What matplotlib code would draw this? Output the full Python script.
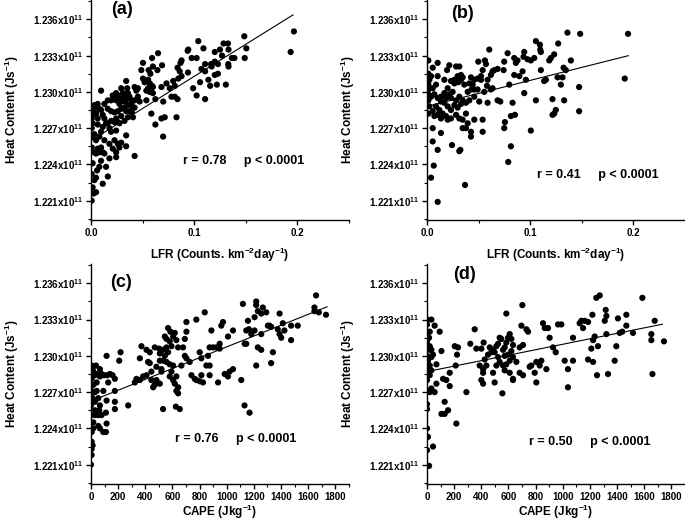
import numpy as np
import matplotlib
matplotlib.use("Agg")
import matplotlib.pyplot as plt
from matplotlib.ticker import FixedLocator, MultipleLocator

# ==== Fonts ====
plt.rcParams['font.family'] = ['Liberation Sans', 'DejaVu Sans']
plt.rcParams['font.weight'] = 'bold'
plt.rcParams['mathtext.fontset'] = 'custom'
plt.rcParams['mathtext.rm'] = 'Liberation Sans:bold'
plt.rcParams['mathtext.bf'] = 'Liberation Sans:bold'
plt.rcParams['mathtext.default'] = 'bf'

HC_SCALE = 1e11  # heat content values below are in units of 1e11 J/s

# ==== (a) LFR vs heat content ====
lfr_a = [0.1967, 0.1935, 0.1486, 0.1506, 0.1490, 0.1040, 0.1090, 0.0943, 0.1285, 0.1327,
         0.1333, 0.1250, 0.1200, 0.1366, 0.1390, 0.1333, 0.1330, 0.1270, 0.1200, 0.1164,
         0.1170, 0.1230, 0.1106, 0.1070, 0.1106, 0.1138, 0.1200, 0.1230, 0.1155, 0.1220,
         0.1307, 0.1057, 0.0990, 0.1024, 0.1106, 0.1024, 0.0976, 0.0878, 0.0868, 0.0839,
         0.0860, 0.0940, 0.0937, 0.0878, 0.0846, 0.0797, 0.0813, 0.0764, 0.0813, 0.0839,
         0.0780, 0.0732, 0.0683, 0.0700, 0.0683, 0.0715, 0.0829, 0.0624, 0.0699, 0.0689,
         0.0644, 0.0650, 0.0592, 0.0600, 0.0559, 0.0576, 0.0504, 0.0488, 0.0504, 0.0520,
         0.0553, 0.0570, 0.0592, 0.0600, 0.0553, 0.0537, 0.0570, 0.0600, 0.0624, 0.0537,
         0.0585, 0.0455, 0.0439, 0.0423, 0.0472, 0.0423, 0.0397, 0.0407, 0.0423, 0.0341,
         0.0351, 0.0309, 0.0325, 0.0358, 0.0374, 0.0293, 0.0244, 0.0228, 0.0260, 0.0211,
         0.0195, 0.0276, 0.0325, 0.0358, 0.0325, 0.0293, 0.0341, 0.0374, 0.0260, 0.0228,
         0.0195, 0.0163, 0.0293, 0.0358, 0.0244, 0.0325, 0.0276, 0.0228, 0.0195, 0.0163,
         0.0244, 0.0341, 0.0293, 0.0260, 0.0276, 0.0341, 0.0244, 0.0244, 0.0179, 0.0163,
         0.0114, 0.0098, 0.0081, 0.0059, 0.0049, 0.0033, 0.0049, 0.0026, 0.0007, 0.0016,
         0.0007, 0.0016, 0.0098, 0.0033, 0.0026, 0.0016, 0.0007, 0.0049, 0.0065, 0.0016,
         0.0007, 0.0007, 0.0007, 0.0033, 0.0049, 0.0065, 0.0098, 0.0114, 0.0130, 0.0146,
         0.0114, 0.0098, 0.0081, 0.0130, 0.0098, 0.0114, 0.0081, 0.0130, 0.0146, 0.0065,
         0.0049, 0.0033, 0.0179, 0.0195, 0.0179, 0.0228, 0.0211, 0.0163, 0.0130, 0.0065,
         0.0081, 0.0049, 0.0260, 0.0390, 0.0455, 0.0407, 0.0293, 0.0244, 0.0390, 0.0341,
         0.0423]
heat_a = [1.2350, 1.2333, 1.2346, 1.2336, 1.2328, 1.2342, 1.2336, 1.2335, 1.2340, 1.2340,
          1.2335, 1.2335, 1.2333, 1.2328, 1.2328, 1.2321, 1.2323, 1.2330, 1.2325, 1.2323,
          1.2321, 1.2323, 1.2323, 1.2319, 1.2317, 1.2310, 1.2314, 1.2315, 1.2305, 1.2306,
          1.2306, 1.2308, 1.2303, 1.2297, 1.2294, 1.2328, 1.2328, 1.2326, 1.2324, 1.2320,
          1.2317, 1.2316, 1.2334, 1.2313, 1.2311, 1.2309, 1.2305, 1.2303, 1.2296, 1.2294,
          1.2296, 1.2307, 1.2304, 1.2292, 1.2278, 1.2279, 1.2279, 1.2273, 1.2263, 1.2322,
          1.2318, 1.2332, 1.2328, 1.2321, 1.2318, 1.2315, 1.2324, 1.2318, 1.2311, 1.2308,
          1.2310, 1.2307, 1.2305, 1.2304, 1.2303, 1.2301, 1.2300, 1.2299, 1.2294, 1.2293,
          1.2282, 1.2303, 1.2301, 1.2293, 1.2292, 1.2287, 1.2283, 1.2279, 1.2247, 1.2309,
          1.2303, 1.2299, 1.2297, 1.2299, 1.2296, 1.2294, 1.2293, 1.2294, 1.2297, 1.2297,
          1.2293, 1.2290, 1.2292, 1.2289, 1.2287, 1.2286, 1.2284, 1.2284, 1.2284, 1.2283,
          1.2284, 1.2286, 1.2280, 1.2279, 1.2278, 1.2276, 1.2274, 1.2275, 1.2276, 1.2274,
          1.2268, 1.2264, 1.2258, 1.2257, 1.2254, 1.2255, 1.2250, 1.2246, 1.2245, 1.2230,
          1.2224, 1.2243, 1.2238, 1.2235, 1.2229, 1.2227, 1.2217, 1.2216, 1.2210, 1.2221,
          1.2232, 1.2241, 1.2301, 1.2289, 1.2285, 1.2281, 1.2278, 1.2282, 1.2278, 1.2274,
          1.2270, 1.2263, 1.2254, 1.2265, 1.2260, 1.2273, 1.2285, 1.2281, 1.2278, 1.2274,
          1.2271, 1.2267, 1.2263, 1.2260, 1.2254, 1.2250, 1.2250, 1.2249, 1.2238, 1.2253,
          1.2249, 1.2250, 1.2270, 1.2267, 1.2257, 1.2260, 1.2253, 1.2293, 1.2290, 1.2290,
          1.2286, 1.2288, 1.2275, 1.2293, 1.2296, 1.2287, 1.2303, 1.2299, 1.2290, 1.2294,
          1.2304]

# ==== (b) LFR vs heat content ====
lfr_b = [0.1948, 0.1916, 0.1484, 0.1474, 0.1474, 0.1361, 0.1271, 0.1055, 0.1094, 0.1097,
         0.1103, 0.1039, 0.1006, 0.0974, 0.0935, 0.0877, 0.0861, 0.0845, 0.0942, 0.0781,
         0.0748, 0.0742, 0.0684, 0.0652, 0.0603, 0.0561, 0.0571, 0.0635, 0.0619, 0.0587,
         0.0539, 0.0523, 0.0497, 0.0490, 0.0458, 0.0523, 0.0581, 0.0619, 0.0555, 0.0490,
         0.0458, 0.0426, 0.0410, 0.0432, 0.0394, 0.0361, 0.0329, 0.0329, 0.0345, 0.0297,
         0.0281, 0.0313, 0.0303, 0.0265, 0.0265, 0.0232, 0.0216, 0.0194, 0.0248, 0.0200,
         0.0216, 0.0168, 0.0135, 0.0184, 0.0232, 0.0281, 0.0313, 0.0345, 0.0377, 0.0410,
         0.0329, 0.0265, 0.0297, 0.0232, 0.0200, 0.0168, 0.0135, 0.0103, 0.0071, 0.0039,
         0.0013, 0.0013, 0.0013, 0.0013, 0.0023, 0.0039, 0.0013, 0.0013, 0.0103, 0.0055,
         0.0103, 0.0087, 0.0055, 0.0023, 0.0013, 0.0055, 0.0087, 0.0119, 0.0071, 0.0103,
         0.0152, 0.0184, 0.0200, 0.0232, 0.0281, 0.0313, 0.0345, 0.0377, 0.0394, 0.0458,
         0.0377, 0.0345, 0.0426, 0.0426, 0.0539, 0.0055, 0.0135, 0.0055, 0.0103, 0.0065,
         0.0039, 0.0242, 0.0323, 0.0313, 0.0368, 0.0103, 0.0748, 0.0813, 0.0852, 0.0813,
         0.0787, 0.0755, 0.0829, 0.0797, 0.1006, 0.1055, 0.1216, 0.1216, 0.1232, 0.1248,
         0.1329, 0.1297, 0.1313, 0.1323, 0.1345, 0.1394, 0.1265, 0.1232, 0.1184, 0.1200,
         0.1135, 0.1152, 0.1103, 0.0958, 0.0926, 0.0894, 0.0942, 0.0845, 0.0684, 0.0710,
         0.0458, 0.0506, 0.0442, 0.0587, 0.0635, 0.0539, 0.0135, 0.0168]
heat_b = [1.2348, 1.2311, 1.2348, 1.2304, 1.2284, 1.2349, 1.2340, 1.2342, 1.2339, 1.2335,
          1.2333, 1.2328, 1.2326, 1.2327, 1.2329, 1.2326, 1.2324, 1.2328, 1.2333, 1.2332,
          1.2325, 1.2318, 1.2319, 1.2318, 1.2335, 1.2326, 1.2323, 1.2317, 1.2314, 1.2310,
          1.2318, 1.2313, 1.2325, 1.2311, 1.2310, 1.2310, 1.2305, 1.2302, 1.2300, 1.2302,
          1.2302, 1.2312, 1.2307, 1.2302, 1.2300, 1.2306, 1.2310, 1.2314, 1.2312, 1.2313,
          1.2321, 1.2321, 1.2308, 1.2307, 1.2310, 1.2309, 1.2322, 1.2318, 1.2300, 1.2303,
          1.2298, 1.2299, 1.2296, 1.2295, 1.2295, 1.2293, 1.2296, 1.2293, 1.2291, 1.2293,
          1.2290, 1.2289, 1.2287, 1.2285, 1.2288, 1.2291, 1.2292, 1.2295, 1.2298, 1.2296,
          1.2293, 1.2298, 1.2302, 1.2306, 1.2310, 1.2313, 1.2315, 1.2326, 1.2324, 1.2320,
          1.2313, 1.2306, 1.2303, 1.2288, 1.2282, 1.2284, 1.2288, 1.2285, 1.2280, 1.2281,
          1.2282, 1.2280, 1.2277, 1.2278, 1.2281, 1.2278, 1.2277, 1.2282, 1.2274, 1.2277,
          1.2270, 1.2270, 1.2263, 1.2267, 1.2267, 1.2270, 1.2266, 1.2259, 1.2252, 1.2239,
          1.2229, 1.2256, 1.2252, 1.2251, 1.2223, 1.2209, 1.2270, 1.2280, 1.2281, 1.2255,
          1.2242, 1.2275, 1.2291, 1.2306, 1.2268, 1.2293, 1.2294, 1.2281, 1.2282, 1.2285,
          1.2293, 1.2306, 1.2312, 1.2320, 1.2318, 1.2326, 1.2312, 1.2331, 1.2326, 1.2328,
          1.2309, 1.2310, 1.2318, 1.2310, 1.2317, 1.2313, 1.2299, 1.2314, 1.2293, 1.2292,
          1.2296, 1.2292, 1.2306, 1.2291, 1.2303, 1.2277, 1.2278, 1.2310]

# ==== (c) CAPE vs heat content ====
cape_c = [1658, 1731, 1646, 1678, 1646, 1523, 1474, 1474, 1425, 1413,
          1389, 1389, 1401, 1376, 1327, 1303, 1315, 1291, 1266, 1229,
          1217, 1217, 1254, 1205, 1254, 1205, 1181, 1144, 1163, 1156,
          1119, 1144, 1229, 1254, 1217, 1327, 1340, 1132, 1046, 1009,
          972, 960, 948, 899, 923, 874, 887, 850, 874, 862,
          813, 801, 776, 838, 703, 703, 691, 678, 691, 703,
          727, 666, 740, 764, 776, 801, 813, 825, 874, 936,
          985, 1021, 1009, 1107, 1046, 948, 642, 629, 617, 605,
          585, 568, 556, 544, 580, 593, 556, 568, 531, 507,
          544, 531, 556, 580, 605, 593, 580, 605, 629, 617,
          642, 629, 625, 654, 642, 519, 482, 470, 502, 433,
          409, 360, 372, 421, 433, 445, 409, 384, 445, 482,
          470, 458, 519, 507, 531, 323, 360, 335, 507, 1131,
          1168, 274, 218, 208, 115, 140, 78, 42, 96, 66,
          120, 159, 176, 127, 176, 176, 176, 115, 110, 115,
          110, 54, 66, 91, 54, 78, 61, 29, 17, 5,
          5, 5, 5, 0, 12, 17, 29, 0, 0, 12,
          29, 42, 54, 17, 5, 5, 5, 12, 29, 42,
          5, 0, 29, 66, 91, 17, 66, 37]
heat_c = [1.2350, 1.2334, 1.2337, 1.2336, 1.2340, 1.2325, 1.2313, 1.2325, 1.2321, 1.2327,
          1.2335, 1.2318, 1.2315, 1.2322, 1.2324, 1.2325, 1.2325, 1.2336, 1.2340, 1.2337,
          1.2345, 1.2342, 1.2335, 1.2332, 1.2318, 1.2321, 1.2318, 1.2321, 1.2322, 1.2329,
          1.2343, 1.2310, 1.2307, 1.2305, 1.2292, 1.2294, 1.2303, 1.2310, 1.2321, 1.2316,
          1.2328, 1.2325, 1.2310, 1.2307, 1.2307, 1.2307, 1.2321, 1.2292, 1.2292, 1.2300,
          1.2298, 1.2303, 1.2330, 1.2336, 1.2328, 1.2320, 1.2314, 1.2307, 1.2300, 1.2298,
          1.2295, 1.2292, 1.2284, 1.2281, 1.2280, 1.2279, 1.2284, 1.2278, 1.2284, 1.2278,
          1.2285, 1.2287, 1.2283, 1.2280, 1.2289, 1.2306, 1.2307, 1.2313, 1.2319, 1.2316,
          1.2320, 1.2323, 1.2314, 1.2316, 1.2312, 1.2308, 1.2307, 1.2303, 1.2305, 1.2302,
          1.2300, 1.2296, 1.2295, 1.2293, 1.2292, 1.2287, 1.2283, 1.2280, 1.2283, 1.2277,
          1.2274, 1.2271, 1.2258, 1.2256, 1.2269, 1.2289, 1.2291, 1.2307, 1.2306, 1.2303,
          1.2305, 1.2298, 1.2308, 1.2295, 1.2294, 1.2287, 1.2284, 1.2283, 1.2280, 1.2280,
          1.2276, 1.2274, 1.2287, 1.2277, 1.2256, 1.2278, 1.2280, 1.2281, 1.2296, 1.2259,
          1.2253, 1.2259, 1.2303, 1.2296, 1.2300, 1.2285, 1.2285, 1.2285, 1.2284, 1.2283,
          1.2284, 1.2284, 1.2281, 1.2278, 1.2271, 1.2262, 1.2256, 1.2263, 1.2253, 1.2244,
          1.2237, 1.2242, 1.2240, 1.2237, 1.2251, 1.2251, 1.2255, 1.2251, 1.2245, 1.2237,
          1.2229, 1.2223, 1.2218, 1.2210, 1.2226, 1.2240, 1.2255, 1.2251, 1.2259, 1.2265,
          1.2270, 1.2271, 1.2265, 1.2276, 1.2281, 1.2287, 1.2292, 1.2289, 1.2284, 1.2278,
          1.2271, 1.2267, 1.2262, 1.2259, 1.2271, 1.2287, 1.2289, 1.2292]

# ==== (d) CAPE vs heat content ====
cape_d = [1745, 1677, 1652, 1652, 1660, 1586, 1517, 1468, 1468, 1394,
          1406, 1419, 1438, 1382, 1333, 1321, 1321, 1316, 1309, 1272,
          1247, 1259, 1252, 1235, 1223, 1210, 1223, 1218, 1186, 1186,
          1161, 1149, 1137, 1124, 1075, 1075, 1038, 1038, 1014, 989,
          965, 948, 928, 903, 891, 867, 854, 879, 842, 830,
          805, 793, 768, 756, 805, 732, 744, 702, 695, 707,
          682, 682, 707, 658, 633, 621, 609, 597, 584, 584,
          572, 560, 572, 597, 621, 633, 609, 584, 560, 572,
          609, 633, 633, 547, 535, 523, 511, 486, 498, 523,
          535, 511, 498, 474, 462, 449, 425, 417, 400, 437,
          413, 388, 413, 400, 413, 486, 555, 363, 351, 319,
          290, 228, 221, 204, 211, 167, 167, 142, 118, 130,
          155, 130, 106, 216, 93, 106, 69, 56, 69, 56,
          32, 20, 32, 20, 7, 0, 0, 7, 0, 15,
          0, 20, 0, 0, 32, 15, 32, 44, 32, 20,
          0, 0, 7, 0, 7, 20, 0, 0, 7, 0,
          0, 15, 44, 20]
heat_d = [1.2312, 1.2329, 1.2318, 1.2313, 1.2285, 1.2348, 1.2319, 1.2334, 1.2325, 1.2308,
          1.2331, 1.2319, 1.2320, 1.2296, 1.2285, 1.2318, 1.2333, 1.2338, 1.2329, 1.2350,
          1.2348, 1.2308, 1.2284, 1.2316, 1.2313, 1.2306, 1.2295, 1.2334, 1.2328, 1.2297,
          1.2329, 1.2323, 1.2329, 1.2327, 1.2315, 1.2296, 1.2289, 1.2274, 1.2296, 1.2326,
          1.2326, 1.2303, 1.2307, 1.2315, 1.2323, 1.2323, 1.2327, 1.2289, 1.2296, 1.2292,
          1.2295, 1.2286, 1.2292, 1.2291, 1.2278, 1.2322, 1.2320, 1.2342, 1.2325, 1.2309,
          1.2307, 1.2286, 1.2284, 1.2295, 1.2309, 1.2314, 1.2318, 1.2315, 1.2311, 1.2335,
          1.2307, 1.2305, 1.2300, 1.2301, 1.2304, 1.2299, 1.2296, 1.2293, 1.2292, 1.2288,
          1.2286, 1.2281, 1.2280, 1.2314, 1.2315, 1.2310, 1.2308, 1.2305, 1.2303, 1.2299,
          1.2295, 1.2292, 1.2278, 1.2303, 1.2307, 1.2301, 1.2297, 1.2311, 1.2306, 1.2292,
          1.2289, 1.2292, 1.2286, 1.2280, 1.2277, 1.2286, 1.2269, 1.2306, 1.2322, 1.2310,
          1.2270, 1.2307, 1.2301, 1.2308, 1.2292, 1.2286, 1.2275, 1.2280, 1.2281, 1.2262,
          1.2255, 1.2252, 1.2252, 1.2244, 1.2320, 1.2304, 1.2293, 1.2325, 1.2277, 1.2270,
          1.2273, 1.2284, 1.2288, 1.2292, 1.2296, 1.2300, 1.2306, 1.2308, 1.2312, 1.2315,
          1.2318, 1.2320, 1.2326, 1.2330, 1.2330, 1.2299, 1.2299, 1.2301, 1.2305, 1.2308,
          1.2293, 1.2288, 1.2284, 1.2280, 1.2271, 1.2270, 1.2260, 1.2256, 1.2233, 1.2222,
          1.2240, 1.2209, 1.2225, 1.2305]

# ==== Linear fits as drawn (intercept, slope, x range) ====
fit_intercepts = [1.22597, 1.22880, 1.22626, 1.22870]
fit_slopes = [0.0531, 0.0215, 4.485e-6, 2.26e-6]
fit_xmax = [0.1958, 0.195, 1739, 1733]

panel_tags = ['(a)', '(b)', '(c)', '(d)']
r_values = ['0.78', '0.41', '0.76', '0.50']
p_text = 'p < 0.0001'

y_major = [1.221, 1.224, 1.227, 1.230, 1.233, 1.236]
y_lim = (1.2194, 1.2376)

xs_all = [lfr_a, lfr_b, cape_c, cape_d]
ys_all = [heat_a, heat_b, heat_c, heat_d]

fig = plt.figure(figsize=(6.85, 5.21), dpi=100)
ax_rects = [[0.1328, 0.5777, 0.3766, 0.4223],
            [0.6234, 0.5777, 0.3766, 0.4223],
            [0.1328, 0.0710, 0.3766, 0.4223],
            [0.6234, 0.0710, 0.3766, 0.4223]]
tag_pos = [(0.078, 0.955), (0.093, 0.94), (0.074, 0.918), (0.10, 0.95)]
stat_pos = [(0.357, 0.268), (0.426, 0.205), (0.326, 0.205), (0.395, 0.19)]

for i in range(4):
    ax = fig.add_axes(ax_rects[i])
    x = np.array(xs_all[i])
    y = np.array(ys_all[i]) * HC_SCALE
    ax.scatter(x, y, s=20, c='black', edgecolors='none', zorder=3)

    xf = np.array([0.0, fit_xmax[i]])
    ax.plot(xf, (fit_intercepts[i] + fit_slopes[i] * xf) * HC_SCALE,
            color='black', lw=0.8, zorder=4)

    ax.set_ylim(y_lim[0] * HC_SCALE, y_lim[1] * HC_SCALE)
    ax.yaxis.set_major_locator(FixedLocator([v * HC_SCALE for v in y_major]))
    ax.yaxis.set_minor_locator(MultipleLocator(0.0015 * HC_SCALE))
    ax.set_yticklabels([r'%.3fx10$^{11}$' % v for v in y_major])

    if i < 2:
        ax.set_xlim(0, 0.25)
        ax.xaxis.set_major_locator(FixedLocator([0.0, 0.1, 0.2]))
        ax.set_xticklabels(['0.0', '0.1', '0.2'])
        ax.xaxis.set_minor_locator(MultipleLocator(0.05))
        ax.set_xlabel(r'LFR (Counts. km$^{-2}$day$^{-1}$)', fontsize=8.5,
                      fontweight='bold', labelpad=6)
    else:
        ax.set_xlim(0, 1900)
        ax.xaxis.set_major_locator(FixedLocator(list(range(0, 1801, 200))))
        ax.xaxis.set_minor_locator(MultipleLocator(100))
        ax.set_xlabel(r'CAPE (Jkg$^{-1}$)', fontsize=8.5, fontweight='bold', labelpad=1)

    ax.set_ylabel(r'Heat Content (Js$^{-1}$)', fontsize=8.5, fontweight='bold', labelpad=9)

    for side in ['top', 'right']:
        ax.spines[side].set_visible(False)
    for side in ['left', 'bottom']:
        ax.spines[side].set_linewidth(1.0)
    ax.tick_params(which='major', direction='out', length=3.5, width=1.0,
                   labelsize=7, pad=2)
    ax.tick_params(which='minor', direction='out', length=2, width=0.8)
    for lab in ax.get_xticklabels() + ax.get_yticklabels():
        lab.set_fontweight('bold')

    ax.text(tag_pos[i][0], tag_pos[i][1], panel_tags[i], transform=ax.transAxes,
            fontsize=13, fontweight='bold', va='center', ha='left')
    ax.text(stat_pos[i][0], stat_pos[i][1], 'r = %s     %s' % (r_values[i], p_text),
            transform=ax.transAxes, fontsize=9, fontweight='bold', va='center', ha='left')
    ax.patch.set_alpha(0)

fig.savefig('out.png', dpi=100)
